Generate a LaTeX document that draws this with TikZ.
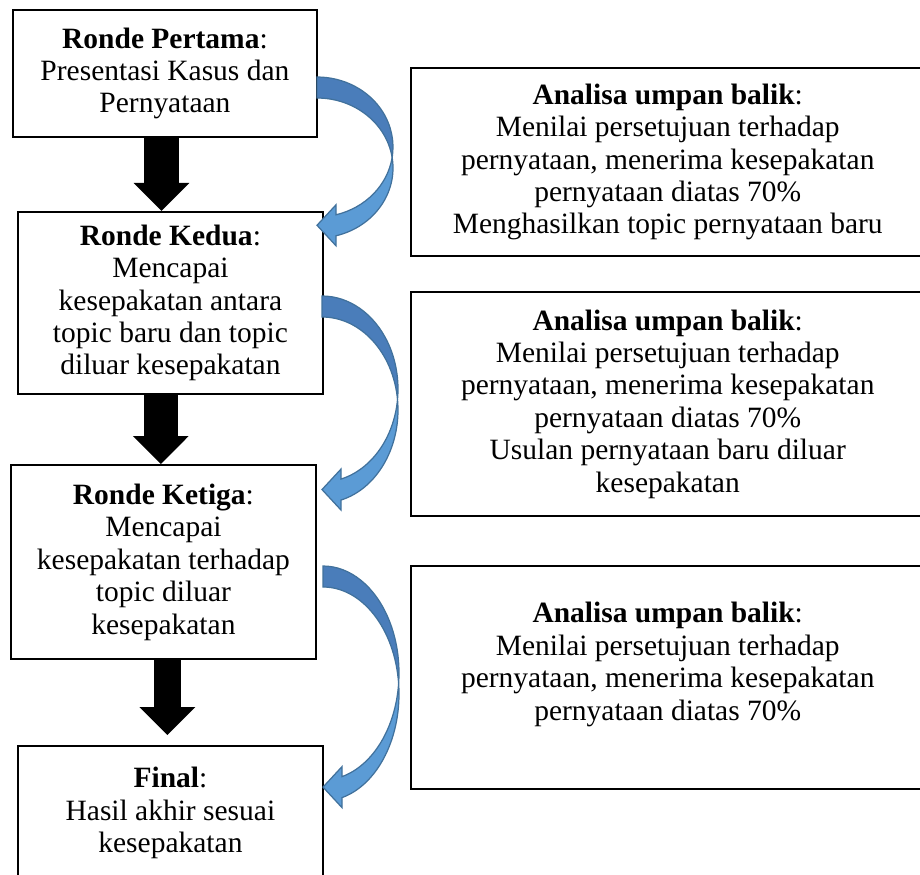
\documentclass[tikz,border=0pt]{standalone}
\usepackage{fontspec}
\setmainfont{Liberation Serif}
\usepackage{tikz}
\usetikzlibrary{arrows.meta}
\definecolor{BentDark}{HTML}{4A7DBA}
\definecolor{BentLight}{HTML}{5B9BD5}
\definecolor{BentLine}{HTML}{41719C}
% curved feedback arrow: #1 start coordinate, #2 vertical radius
\newcommand{\bentarrow}[2]{%
  \pgfmathsetmacro{\bentangA}{-asin(10.5/#2)}%
  \pgfmathsetmacro{\bentangB}{asin(10.5/#2)}%
  \pgfmathsetmacro{\bentpx}{76*cos(\bentangB)}%
  \pgfmathsetmacro{\bentya}{-#2-#2*0.9682}%
  \pgfmathsetmacro{\bentyb}{\bentya-21}%
  \pgfmathsetmacro{\bentym}{\bentya-10.5}%
  \begin{scope}[shift={(#1)}]
    \filldraw[bentback] (0,0) arc[start angle=90, end angle=\bentangA, x radius=76*0.407pt, y radius=#2*0.407pt]
      arc[start angle=\bentangB, end angle=90, x radius=76*0.407pt, y radius=#2*0.407pt] -- cycle;
    \filldraw[bentfront] (\bentpx,-#2-10.5) arc[start angle=\bentangB, end angle=-75.52, x radius=76*0.407pt, y radius=#2*0.407pt]
      -- (19,\bentyb-10) -- (0,\bentym) -- (19,\bentya+10) -- (19,\bentya)
      arc[start angle=-75.52, end angle=\bentangA, x radius=76*0.407pt, y radius=#2*0.407pt] -- cycle;
  \end{scope}}

\begin{document}
\begin{tikzpicture}[x=0.407pt, y=0.407pt, every node/.style={font=\fontsize{12}{13.2}\selectfont}]
\tikzset{box/.style={draw, line width=0.8pt, anchor=north west, align=center, inner sep=0pt}}
\tikzset{bigarrow/.style={line width=14pt, -{Triangle[width=22pt, length=11.4pt]}}}
\tikzset{bentback/.style={fill=BentDark, draw=BentLine, line width=0.5pt}}
\tikzset{bentfront/.style={fill=BentLight, draw=BentLine, line width=0.5pt}}
\useasboundingbox (0,0) rectangle (920,-874);
% rounds
\node[box, minimum width=123.7pt, minimum height=51.7pt] (r1) at (12,-9) {\textbf{Ronde Pertama}:\\Presentasi Kasus dan\\Pernyataan};
\node[box, minimum width=124.1pt, minimum height=74.1pt] (r2) at (17,-211) {\textbf{Ronde Kedua}:\\Mencapai\\kesepakatan antara\\topic baru dan topic\\diluar kesepakatan};
\node[box, minimum width=124.1pt, minimum height=79pt] (r3) at (10,-464) {\textbf{Ronde Ketiga}:\\Mencapai\\kesepakatan terhadap\\topic diluar\\kesepakatan};
\node[box, minimum width=124.1pt, minimum height=54.5pt] (r4) at (17,-745) {\textbf{Final}:\\Hasil akhir sesuai\\kesepakatan};
% feedback
\node[box, minimum width=209pt, minimum height=76.5pt] (fb1) at (410,-67) {\textbf{Analisa umpan balik}:\\Menilai persetujuan terhadap\\pernyataan, menerima kesepakatan\\pernyataan diatas 70\%\\Menghasilkan topic pernyataan baru};
\node[box, minimum width=209pt, minimum height=91.2pt] (fb2) at (410,-291) {\textbf{Analisa umpan balik}:\\Menilai persetujuan terhadap\\pernyataan, menerima kesepakatan\\pernyataan diatas 70\%\\Usulan pernyataan baru diluar\\kesepakatan};
\node[box, minimum width=209pt, minimum height=90.8pt] (fb3) at (410,-565) {\textbf{Analisa umpan balik}:\\Menilai persetujuan terhadap\\pernyataan, menerima kesepakatan\\pernyataan diatas 70\%\\\mbox{}};
% block arrows
\draw[bigarrow] ([xshift=-1.4pt]r1.south) -- ([xshift=-1.4pt]r1.south |- r2.north);
\draw[bigarrow] ([xshift=-3.9pt]r2.south) -- ([xshift=-3.9pt]r2.south |- r3.north);
\draw[bigarrow, line width=11pt, shorten >=4pt] ([xshift=1.6pt]r3.south) -- ([xshift=1.6pt]r3.south |- r4.north);
% curved arrows
\coordinate (b1) at (317,-77);
\coordinate (b2) at (322,-296);
\coordinate (b3) at (323,-566);
\bentarrow{b1}{70}
\bentarrow{b2}{93}
\bentarrow{b3}{107}
\end{tikzpicture}
\end{document}
